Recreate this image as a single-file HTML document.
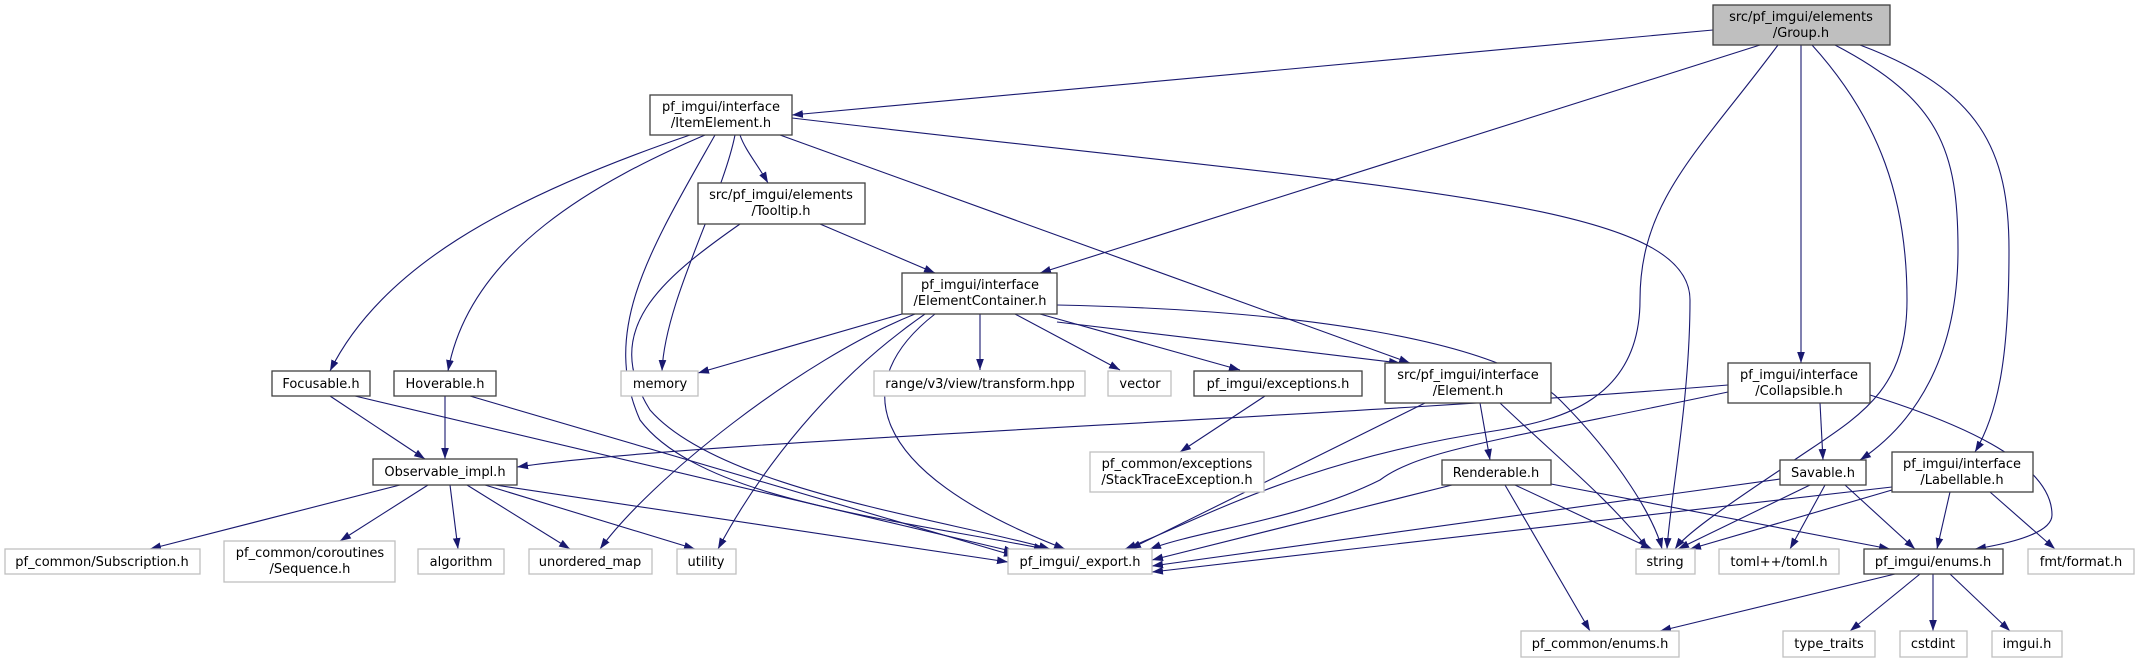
<!DOCTYPE html>
<html><head><meta charset="utf-8"><style>
html,body{margin:0;padding:0;background:#fff;}
svg{display:block;}
text{font-family:"DejaVu Sans","Liberation Sans",sans-serif;font-size:13px;fill:#000;text-anchor:middle;}
.n{fill:#fff;stroke:#404040;stroke-width:1.3;}
.g{fill:#fff;stroke:#bfbfbf;stroke-width:1.3;}
.e{fill:none;stroke:#191970;stroke-width:1.1;}
</style></head><body>
<svg width="2135" height="663" viewBox="0 0 2135 663" xmlns="http://www.w3.org/2000/svg">
<defs><marker id="a" viewBox="0 0 10 7" markerWidth="11" markerHeight="8" refX="10" refY="3.5" orient="auto" markerUnits="userSpaceOnUse"><path d="M0,0L10,3.5L0,7z" fill="#191970"/></marker></defs>
<g marker-end="url(#a)">
<path class="e" d="M1713,30 L792,115"/>
<path class="e" d="M1760,45 L1040,273"/>
<path class="e" d="M1778,45 C1700,150 1640,200 1640,300 C1640,400 1560,420 1500,430 C1300,460 1200,520 1125,549"/>
<path class="e" d="M1801,45 L1801,363"/>
<path class="e" d="M1812,45 C1880,120 1907,200 1907,300 C1907,400 1850,420 1780,470 C1720,510 1685,535 1675,549"/>
<path class="e" d="M1835,45 C1940,100 1958,150 1958,250 C1958,350 1920,420 1860,460"/>
<path class="e" d="M1860,45 C1980,90 2009,150 2009,250 C2009,350 2000,410 1975,452"/>
<path class="e" d="M792,118 C1400,190 1690,200 1690,300 C1690,400 1670,500 1667,549"/>
<path class="e" d="M780,135 L1410,363"/>
<path class="e" d="M690,135 C500,200 380,270 330,371"/>
<path class="e" d="M705,135 C600,180 470,250 448,371"/>
<path class="e" d="M735,135 C722,200 665,300 662,371"/>
<path class="e" d="M740,135 C745,150 758,165 768,183"/>
<path class="e" d="M715,135 C650,250 600,330 640,420 C700,500 900,520 1045,549"/>
<path class="e" d="M820,224 L935,273"/>
<path class="e" d="M740,224 C660,280 600,330 650,410 C720,490 950,520 1050,549"/>
<path class="e" d="M1057,305 C1300,310 1500,340 1560,400 C1620,460 1655,520 1662,549"/>
<path class="e" d="M1057,322 L1400,363"/>
<path class="e" d="M1040,314 L1240,370"/>
<path class="e" d="M1015,314 L1120,370"/>
<path class="e" d="M980,314 L980,370"/>
<path class="e" d="M902,314 L698,373"/>
<path class="e" d="M915,314 C800,360 650,480 600,549"/>
<path class="e" d="M925,314 C830,380 760,470 718,549"/>
<path class="e" d="M935,314 C850,380 860,470 1065,549"/>
<path class="e" d="M330,396 L425,459"/>
<path class="e" d="M355,396 L1015,552"/>
<path class="e" d="M445,396 L445,459"/>
<path class="e" d="M470,396 L1015,556"/>
<path class="e" d="M400,485 L150,549"/>
<path class="e" d="M428,485 L340,541"/>
<path class="e" d="M450,485 L458,549"/>
<path class="e" d="M467,485 L570,549"/>
<path class="e" d="M485,485 L695,549"/>
<path class="e" d="M495,485 L1008,562"/>
<path class="e" d="M1728,385 C1300,420 700,440 517,467"/>
<path class="e" d="M1728,392 C1500,440 1420,450 1380,480 C1300,520 1200,530 1150,549"/>
<path class="e" d="M1820,403 L1823,460"/>
<path class="e" d="M1870,395 C1950,420 2052,460 2052,515 C2052,535 2000,545 1975,549"/>
<path class="e" d="M1265,396 L1180,452"/>
<path class="e" d="M1480,403 L1490,460"/>
<path class="e" d="M1500,403 C1560,460 1610,500 1648,549"/>
<path class="e" d="M1425,403 L1130,549"/>
<path class="e" d="M1452,485 L1152,560"/>
<path class="e" d="M1515,485 L1652,549"/>
<path class="e" d="M1551,484 L1890,549"/>
<path class="e" d="M1505,485 L1590,631"/>
<path class="e" d="M1780,479 L1152,566"/>
<path class="e" d="M1810,485 L1678,549"/>
<path class="e" d="M1825,485 L1790,549"/>
<path class="e" d="M1845,485 L1915,549"/>
<path class="e" d="M1892,487 L1152,572"/>
<path class="e" d="M1892,490 L1690,549"/>
<path class="e" d="M1950,492 L1937,549"/>
<path class="e" d="M1990,492 L2055,549"/>
<path class="e" d="M1895,574 L1660,631"/>
<path class="e" d="M1920,574 L1850,631"/>
<path class="e" d="M1933,574 L1933,631"/>
<path class="e" d="M1950,574 L2010,631"/>
</g>
<!-- nodes -->
<rect x="1713" y="5" width="177" height="40" fill="#bfbfbf" stroke="#404040" stroke-width="1.3"/><text x="1801" y="21">src/pf_imgui/elements</text><text x="1801" y="37">/Group.h</text>
<rect class="n" x="650" y="95" width="142" height="40"/><text x="721" y="111">pf_imgui/interface</text><text x="721" y="127">/ItemElement.h</text>
<rect class="n" x="698" y="183" width="167" height="41"/><text x="781" y="199">src/pf_imgui/elements</text><text x="781" y="215">/Tooltip.h</text>
<rect class="n" x="902" y="273" width="155" height="41"/><text x="980" y="289">pf_imgui/interface</text><text x="980" y="305">/ElementContainer.h</text>
<rect class="n" x="272" y="371" width="98" height="25"/><text x="321" y="388">Focusable.h</text>
<rect class="n" x="394" y="371" width="102" height="25"/><text x="445" y="388">Hoverable.h</text>
<rect class="g" x="621" y="371" width="77" height="25"/><text x="660" y="388">memory</text>
<rect class="g" x="874" y="371" width="211" height="25"/><text x="980" y="388">range/v3/view/transform.hpp</text>
<rect class="g" x="1108" y="371" width="63" height="25"/><text x="1140" y="388">vector</text>
<rect class="n" x="1194" y="371" width="168" height="25"/><text x="1278" y="388">pf_imgui/exceptions.h</text>
<rect class="n" x="1385" y="363" width="166" height="40"/><text x="1468" y="379">src/pf_imgui/interface</text><text x="1468" y="395">/Element.h</text>
<rect class="n" x="1728" y="363" width="142" height="40"/><text x="1799" y="379">pf_imgui/interface</text><text x="1799" y="395">/Collapsible.h</text>
<rect class="n" x="373" y="459" width="144" height="26"/><text x="445" y="476">Observable_impl.h</text>
<rect class="g" x="1090" y="452" width="174" height="40"/><text x="1177" y="468">pf_common/exceptions</text><text x="1177" y="484">/StackTraceException.h</text>
<rect class="n" x="1442" y="460" width="109" height="25"/><text x="1496" y="477">Renderable.h</text>
<rect class="n" x="1780" y="460" width="86" height="25"/><text x="1823" y="477">Savable.h</text>
<rect class="n" x="1892" y="452" width="141" height="40"/><text x="1962" y="468">pf_imgui/interface</text><text x="1962" y="484">/Labellable.h</text>
<rect class="g" x="5" y="549" width="195" height="25"/><text x="102" y="566">pf_common/Subscription.h</text>
<rect class="g" x="224" y="541" width="171" height="41"/><text x="310" y="557">pf_common/coroutines</text><text x="310" y="573">/Sequence.h</text>
<rect class="g" x="418" y="549" width="86" height="25"/><text x="461" y="566">algorithm</text>
<rect class="g" x="529" y="549" width="123" height="25"/><text x="590" y="566">unordered_map</text>
<rect class="g" x="677" y="549" width="59" height="25"/><text x="706" y="566">utility</text>
<rect class="g" x="1008" y="549" width="144" height="25"/><text x="1080" y="566">pf_imgui/_export.h</text>
<rect class="g" x="1636" y="549" width="59" height="25"/><text x="1665" y="566">string</text>
<rect class="g" x="1719" y="549" width="120" height="25"/><text x="1779" y="566">toml++/toml.h</text>
<rect class="n" x="1864" y="549" width="139" height="25"/><text x="1933" y="566">pf_imgui/enums.h</text>
<rect class="g" x="2028" y="549" width="106" height="25"/><text x="2081" y="566">fmt/format.h</text>
<rect class="g" x="1521" y="631" width="158" height="26"/><text x="1600" y="648">pf_common/enums.h</text>
<rect class="g" x="1783" y="631" width="92" height="26"/><text x="1829" y="648">type_traits</text>
<rect class="g" x="1900" y="631" width="67" height="26"/><text x="1933" y="648">cstdint</text>
<rect class="g" x="1992" y="631" width="70" height="26"/><text x="2027" y="648">imgui.h</text>
</svg>
</body></html>
